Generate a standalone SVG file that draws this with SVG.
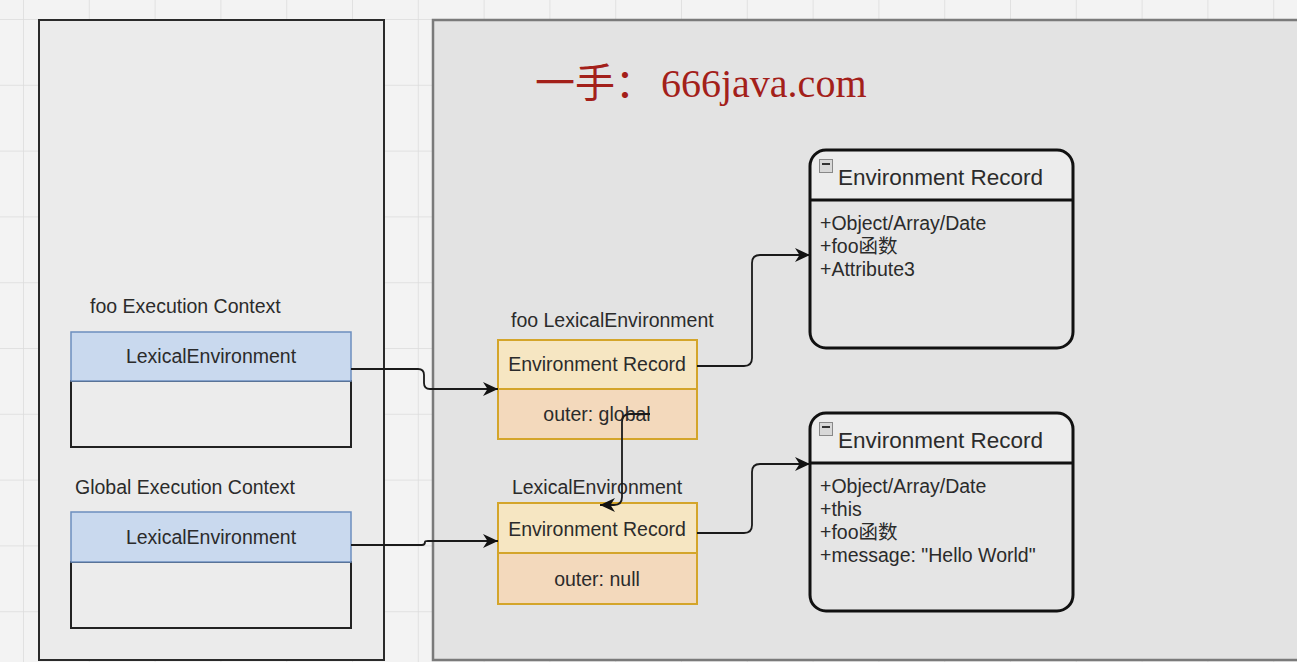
<svg xmlns="http://www.w3.org/2000/svg" width="1297" height="662" viewBox="0 0 1297 662">
  <defs>
    <pattern id="grid" patternUnits="userSpaceOnUse" x="23" y="19" width="65.8" height="65.8">
      <path d="M0,0 V65.8 M0,0 H65.8" fill="none" stroke="#dcdcdc" stroke-width="1.5"/>
    </pattern>
    <marker id="arr" markerUnits="userSpaceOnUse" markerWidth="16" markerHeight="14" refX="15" refY="7" orient="auto">
      <path d="M0,0 L15,7 L0,14 L4.5,7 z" fill="#111"/>
    </marker>
  </defs>
  <style>
    text { font-family: "Liberation Sans", Arial, "Noto Sans CJK SC", sans-serif; fill: #2b2b2b; }
    .lbl { font-size: 19.5px; dominant-baseline: central; }
    .mid { text-anchor: middle; }
    .hdr { font-size: 22.5px; dominant-baseline: central; }
    .wm { font-family: "Liberation Serif", "Noto Sans CJK SC", serif; font-size: 40px; fill: #a3201a; }
    .le { fill: #c9d9ee; stroke: #6c8ebf; stroke-width: 1.5; }
    .lebody { fill: #ececec; stroke: #222; stroke-width: 2; }
    .er { fill: #f6e6c2; stroke: #d4a52a; stroke-width: 2; }
    .outer { fill: #f3d9bc; stroke: #d4a52a; stroke-width: 2; }
    .clsh { fill: #ececec; }
    .clsb { fill: #e5e5e5; }
    .mini { fill: #d8d8d8; stroke: #888; stroke-width: 1; }
    .conn { fill: none; stroke: #1a1a1a; stroke-width: 1.8; marker-end: url(#arr); }
  </style>

  <!-- background -->
  <rect x="0" y="0" width="1297" height="662" fill="#f3f3f3"/>
  <rect x="0" y="0" width="1297" height="662" fill="url(#grid)"/>

  <!-- panels -->
  <g id="stack-panel">
    <rect x="39" y="20" width="345" height="640" fill="#ebebeb" stroke="#2a2a2a" stroke-width="2"/>
  </g>
  <g id="heap-panel">
    <rect x="433" y="20" width="900" height="640" fill="#e3e3e3" stroke="#7a7a7a" stroke-width="2.5"/>
  </g>

  <!-- watermark -->
  <g id="watermark">
    <text class="wm" x="535" y="97">一手：<tspan dx="6">666java.com</tspan></text>
  </g>

  <!-- foo execution context -->
  <g id="foo-ec">
    <text class="lbl" x="90" y="306">foo Execution Context</text>
    <rect class="lebody" x="71" y="381" width="280" height="66"/>
    <rect class="le" x="71" y="332" width="280" height="49"/>
    <text class="lbl mid" x="211" y="356">LexicalEnvironment</text>
  </g>

  <!-- global execution context -->
  <g id="global-ec">
    <text class="lbl" x="75" y="487">Global Execution Context</text>
    <rect class="lebody" x="71" y="562" width="280" height="66"/>
    <rect class="le" x="71" y="512" width="280" height="50"/>
    <text class="lbl mid" x="211" y="537">LexicalEnvironment</text>
  </g>

  <!-- foo lexical environment -->
  <g id="foo-le">
    <text class="lbl" x="511" y="320">foo LexicalEnvironment</text>
    <rect class="er" x="498" y="340" width="199" height="49"/>
    <rect class="outer" x="498" y="389" width="199" height="50"/>
    <text class="lbl mid" x="597" y="364">Environment Record</text>
    <text class="lbl mid" x="597" y="414">outer: global</text>
  </g>

  <!-- global lexical environment -->
  <g id="global-le">
    <text class="lbl mid" x="597" y="487">LexicalEnvironment</text>
    <rect class="er" x="498" y="503" width="199" height="50"/>
    <rect class="outer" x="498" y="553" width="199" height="51"/>
    <text class="lbl mid" x="597" y="529">Environment Record</text>
    <text class="lbl mid" x="597" y="579">outer: null</text>
  </g>

  <!-- foo environment record -->
  <g id="foo-er">
    <path class="clsb" d="M826,150 H1057 A16,16 0 0 1 1073,166 V332 A16,16 0 0 1 1057,348 H826 A16,16 0 0 1 810,332 V166 A16,16 0 0 1 826,150 Z"/>
    <path class="clsh" d="M826,151.5 H1057 A14.5,14.5 0 0 1 1071.5,166 V200 H811.5 V166 A14.5,14.5 0 0 1 826,151.5 Z"/>
    <path d="M826,150 H1057 A16,16 0 0 1 1073,166 V332 A16,16 0 0 1 1057,348 H826 A16,16 0 0 1 810,332 V166 A16,16 0 0 1 826,150 Z" fill="none" stroke="#111" stroke-width="3"/>
    <line x1="810" y1="200" x2="1073" y2="200" stroke="#111" stroke-width="3"/>
    <rect class="mini" x="819.5" y="159.5" width="13" height="13"/>
    <line x1="822" y1="164" x2="830" y2="164" stroke="#333" stroke-width="2"/>
    <text class="hdr" x="838" y="177">Environment Record</text>
    <text class="lbl" x="820" y="223">+Object/Array/Date</text>
    <text class="lbl" x="820" y="246">+foo函数</text>
    <text class="lbl" x="820" y="269">+Attribute3</text>
  </g>

  <!-- global environment record -->
  <g id="global-er">
    <path class="clsb" d="M826,413 H1057 A16,16 0 0 1 1073,429 V595 A16,16 0 0 1 1057,611 H826 A16,16 0 0 1 810,595 V429 A16,16 0 0 1 826,413 Z"/>
    <path class="clsh" d="M826,414.5 H1057 A14.5,14.5 0 0 1 1071.5,429 V463 H811.5 V429 A14.5,14.5 0 0 1 826,414.5 Z"/>
    <path d="M826,413 H1057 A16,16 0 0 1 1073,429 V595 A16,16 0 0 1 1057,611 H826 A16,16 0 0 1 810,595 V429 A16,16 0 0 1 826,413 Z" fill="none" stroke="#111" stroke-width="3"/>
    <line x1="810" y1="463" x2="1073" y2="463" stroke="#111" stroke-width="3"/>
    <rect class="mini" x="819.5" y="422.5" width="13" height="13"/>
    <line x1="822" y1="427" x2="830" y2="427" stroke="#333" stroke-width="2"/>
    <text class="hdr" x="838" y="440">Environment Record</text>
    <text class="lbl" x="820" y="486">+Object/Array/Date</text>
    <text class="lbl" x="820" y="509">+this</text>
    <text class="lbl" x="820" y="532">+foo函数</text>
    <text class="lbl" x="820" y="555">+message: "Hello World"</text>
  </g>

  <!-- connectors -->
  <g id="connectors">
    <path class="conn" d="M351,369 H418 Q424,369 424,375 V383 Q424,389 430,389 H498"/>
    <path class="conn" d="M351,545 H422 Q425,545 425,542 Q425,541 428,541 H498"/>
    <path class="conn" d="M697,366 H744 Q752,366 752,358 V263 Q752,255 760,255 H810"/>
    <path class="conn" d="M697,533 H744 Q752,533 752,525 V472 Q752,464 760,464 H810"/>
    <path class="conn" d="M650,414 H630 Q622,414 622,422 V497 Q622,505 614,505 H600"/>
  </g>
</svg>
